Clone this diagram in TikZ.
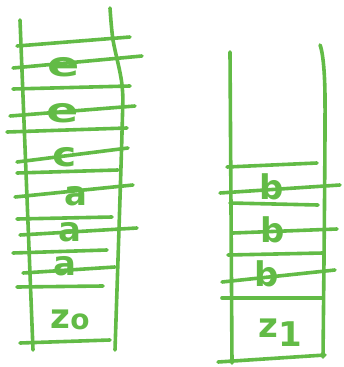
\documentclass[tikz,border=0pt]{standalone}
\usepackage{fontspec}
\setmainfont{DejaVu Sans}
\definecolor{pen}{RGB}{98,187,70}
\begin{document}
\begin{tikzpicture}[x=1pt,y=-1pt,
  stroke/.style={draw=pen,line width=3.6pt,line cap=round,line join=round},
  letter/.style={text=pen,font=\fontsize{34}{36}\selectfont\bfseries,inner sep=0pt}]
\useasboundingbox (0,0) rectangle (343,367);
% left stack verticals
\draw[stroke] (20,20) -- (33,350);
\draw[stroke] plot[smooth] coordinates {(110,8) (113,40) (122,85) (122,133) (115,350)};
% left stack horizontals
\draw[stroke] (17,46) -- (130,37);
\draw[stroke] (13,68) -- (142,56);
\draw[stroke] (13,89) -- (130,86);
\draw[stroke] (10,116) -- (135,106);
\draw[stroke] (7,132) -- (127,128);
\draw[stroke] (17,162) -- (128,148);
\draw[stroke] (17,173) -- (118,170);
\draw[stroke] (15,197) -- (133,185);
\draw[stroke] (17,219) -- (112,217);
\draw[stroke] (20,235) -- (137,228);
\draw[stroke] (13,253) -- (107,250);
\draw[stroke] (23,273) -- (115,267);
\draw[stroke] (17,287) -- (103,286);
\draw[stroke] (20,343) -- (110,340);
% left stack letters
\node[letter,xscale=1.4] (e1) at (64,67) {e};
\node[letter,xscale=1.4] (e2) at (63,113) {e};
\node[letter,xscale=1.2] (c1) at (65,157) {c};
\node[letter] (a1) at (76,196) {a};
\node[letter] (a2) at (70,232) {a};
\node[letter] (a3) at (65,266) {a};
\node[letter] (z0) at (70,320) {z\raisebox{-1pt}{\fontsize{28}{30}\selectfont o}};
% right stack verticals
\draw[stroke] (230,52) -- (232,363);
\draw[stroke] plot[smooth] coordinates {(320,45) (325,97) (323,357)};
% right stack horizontals
\draw[stroke] (227,167) -- (317,163);
\draw[stroke] (220,193) -- (340,185);
\draw[stroke] (230,203) -- (318,205);
\draw[stroke] (233,233) -- (337,229);
\draw[stroke] (228,255) -- (323,253);
\draw[stroke] (222,282) -- (335,270);
\draw[stroke] (222,298) -- (323,298);
\draw[stroke] (218,362) -- (325,355);
% right stack letters
\node[letter] (b1) at (272,187) {b};
\node[letter] (b2) at (273,230) {b};
\node[letter] (b3) at (267,274) {b};
\node[letter] (z1) at (280,333) {z\raisebox{-9pt}{1}};
\end{tikzpicture}
\end{document}
